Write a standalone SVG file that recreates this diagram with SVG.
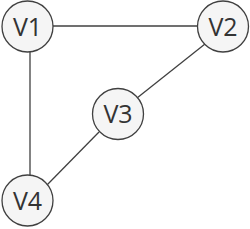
<svg xmlns="http://www.w3.org/2000/svg" width="250" height="229" viewBox="0 0 250 229">
<style>
.n{fill:#f5f5f5;stroke:#404040;stroke-width:1.3}
.t{font-family:"Open Sans","Noto Sans",sans-serif;font-size:25px;fill:#333;text-anchor:middle}
.e{stroke:#404040;stroke-width:1.3;fill:none}
</style>
<rect width="250" height="229" fill="#fff"/>
<g id="edges">
<line class="e" x1="53" y1="26" x2="197" y2="26"/>
<line class="e" x1="30" y1="52" x2="30" y2="175"/>
<line class="e" x1="205" y1="44" x2="137" y2="98"/>
<line class="e" x1="99" y1="132" x2="46" y2="186"/>
</g>
<g id="V1"><circle class="n" cx="27.5" cy="26.5" r="25.5"/><text class="t" x="27.5" y="35.5">V1</text></g>
<g id="V2"><circle class="n" cx="223" cy="26.5" r="25.5"/><text class="t" x="223" y="35.5">V2</text></g>
<g id="V3"><circle class="n" cx="118" cy="114" r="25.5"/><text class="t" x="118" y="123">V3</text></g>
<g id="V4"><circle class="n" cx="27.5" cy="200.5" r="25.5"/><text class="t" x="27.5" y="209.5">V4</text></g>
</svg>
